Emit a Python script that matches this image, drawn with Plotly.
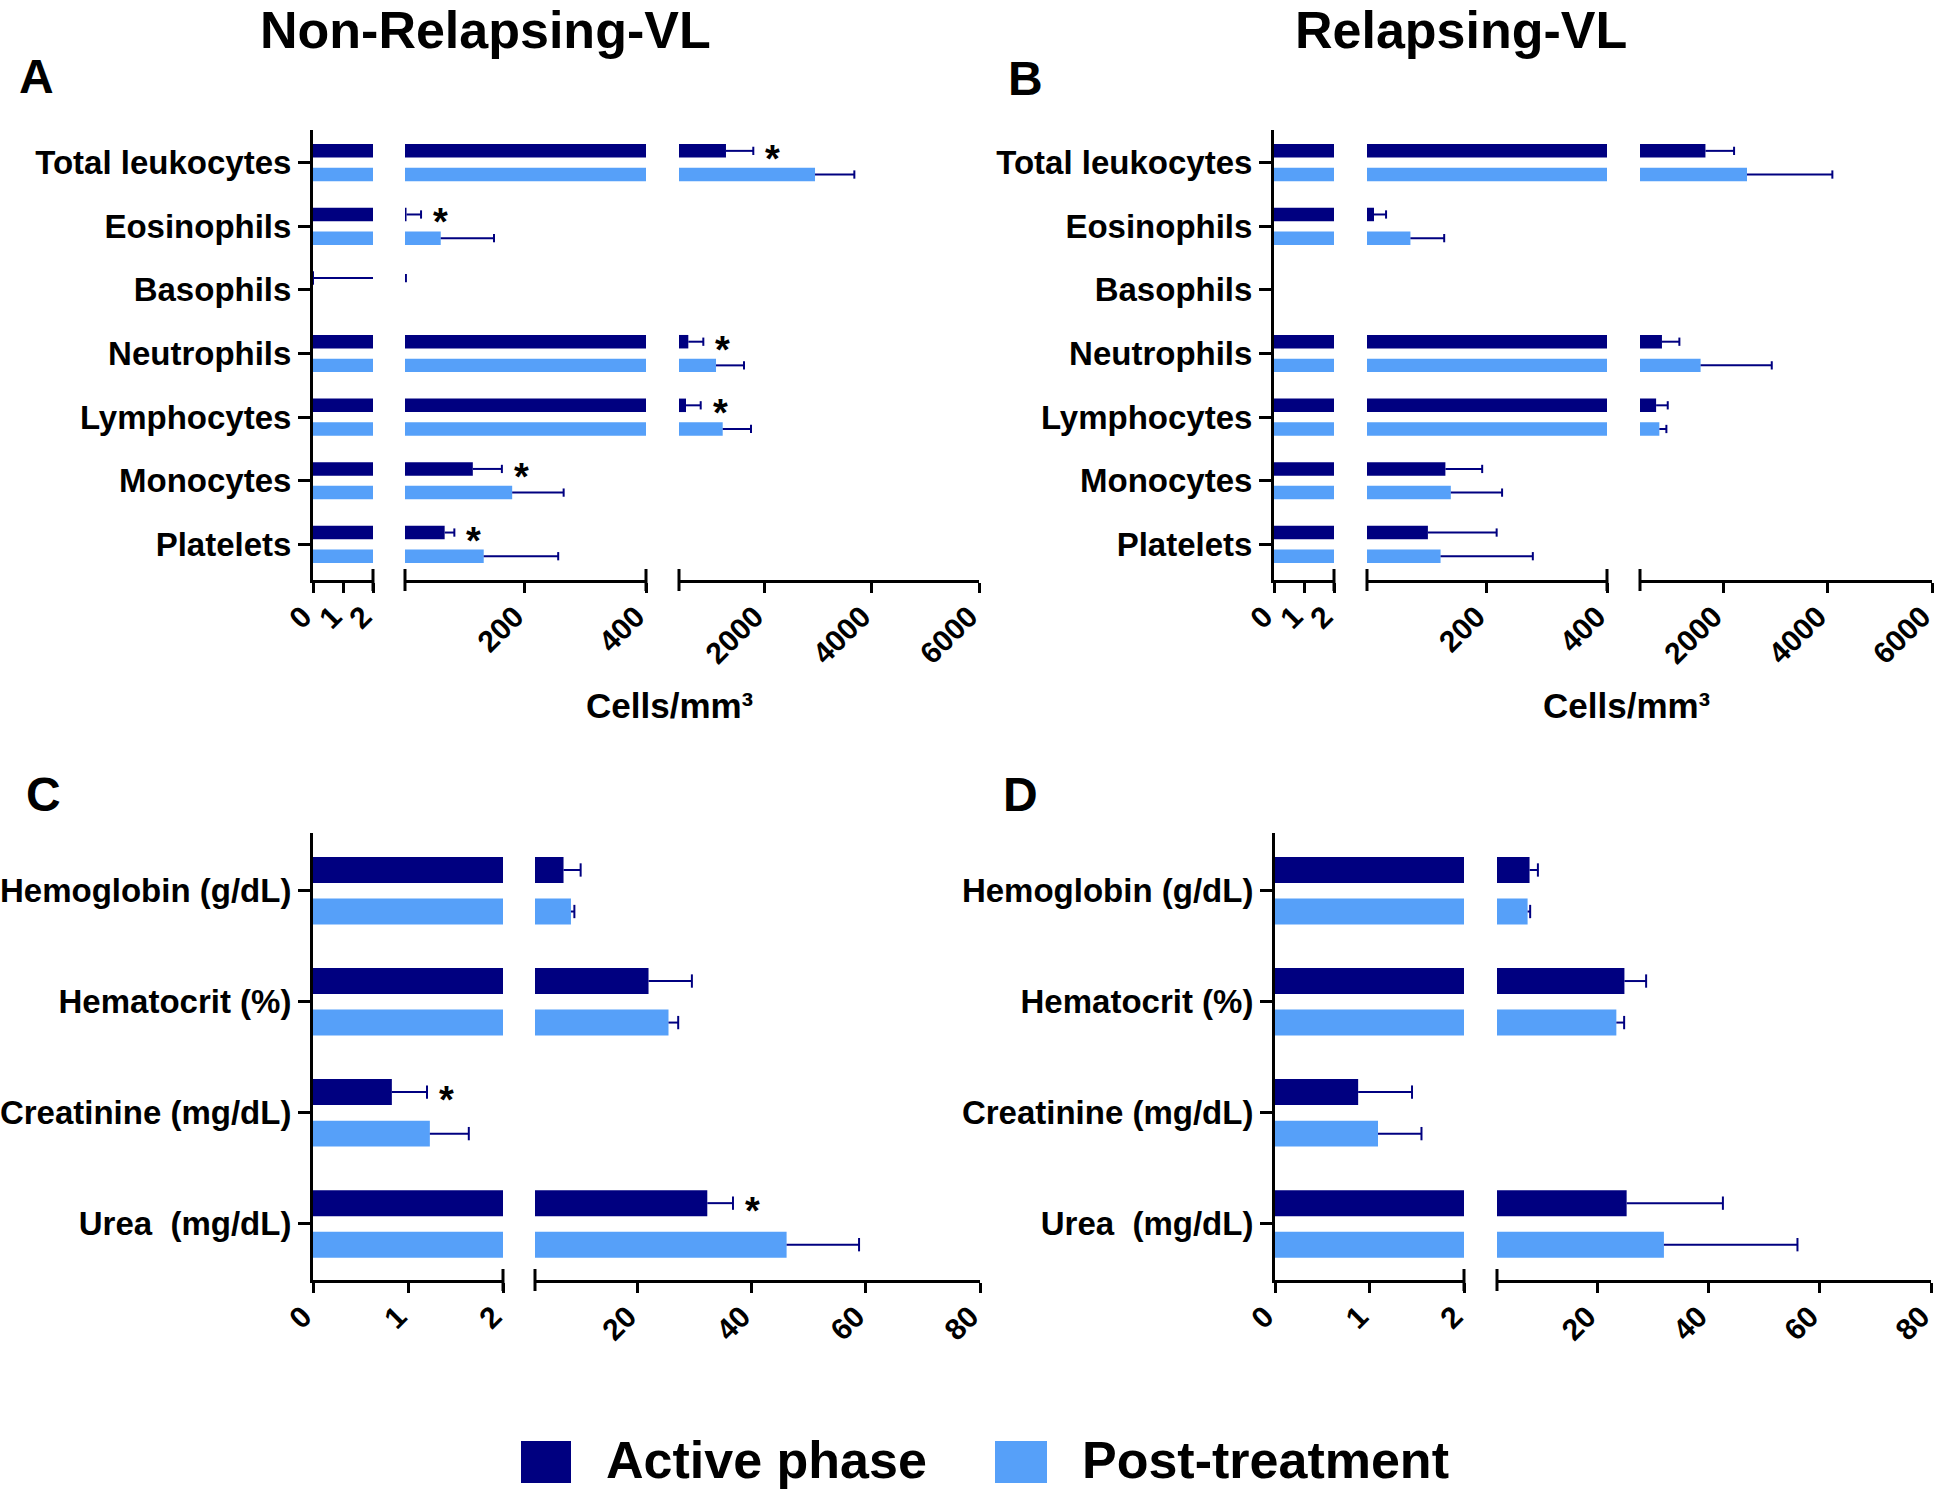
import plotly.graph_objects as go

W, H = 1946, 1493
NAVY = "#000080"
LIGHT = "#56A0F9"
FONT = "Liberation Sans, Arial, Helvetica, sans-serif"

# ---------------- data ----------------
series_names = ["Active phase", "Post-treatment"]

cell_types = ["Total leukocytes", "Eosinophils", "Basophils", "Neutrophils",
              "Lymphocytes", "Monocytes", "Platelets"]
nr_cells_active = [1277, 4.5, 0.02, 574, 531, 114, 67.5]
nr_cells_active_sd = [510, 24, 3.5, 280, 274, 48, 16]
nr_cells_post = [2939, 61, 0, 1091, 1216, 179, 132]
nr_cells_post_sd = [734, 88, 0, 522, 528, 85, 123]
nr_cells_signif = [True, True, False, True, True, True, True]

r_cells_active = [1655, 13.6, 0, 821, 709, 132, 103]
r_cells_active_sd = [549, 20, 0, 334, 223, 61, 114]
r_cells_post = [2452, 74, 0, 1562, 771, 141, 124]
r_cells_post_sd = [1637, 56, 0, 1365, 135, 85, 153]
r_cells_signif = [False] * 7

bio_params = ["Hemoglobin (g/dL)", "Hematocrit (%)", "Creatinine (mg/dL)", "Urea\u00a0 (mg/dL)"]
nr_bio_active = [7.0, 21.9, 0.83, 32.2]
nr_bio_active_sd = [3.0, 7.6, 0.37, 4.5]
nr_bio_post = [8.3, 25.4, 1.23, 46.1]
nr_bio_post_sd = [0.6, 1.7, 0.41, 12.7]
nr_bio_signif = [False, False, True, True]

r_bio_active = [7.85, 24.9, 0.88, 25.3]
r_bio_active_sd = [1.5, 3.9, 0.57, 17.3]
r_bio_post = [7.5, 23.45, 1.09, 32.0]
r_bio_post_sd = [0.46, 1.4, 0.46, 24.0]
r_bio_signif = [False] * 4

cell_segments = [[0, 2], [2, 400], [400, 6000]]
cell_ticks = [[0, 1, 2], [200, 400], [2000, 4000, 6000]]
bio_segments = [[0, 2], [2, 80]]
bio_ticks = [[0, 1, 2], [20, 40, 60, 80]]

# ---------------- layout geometry (pixels) ----------------
panels = [
    dict(cats=cell_types, a=nr_cells_active, asd=nr_cells_active_sd, p=nr_cells_post,
         psd=nr_cells_post_sd, sig=nr_cells_signif, segs=cell_segments, ticks=cell_ticks,
         xpx=[(313, 373), (405, 646), (679, 979)], ypx=(130, 580),
         yr=[6.56, -0.514], d=0.186, w=0.212, cap=0.065),
    dict(cats=cell_types, a=r_cells_active, asd=r_cells_active_sd, p=r_cells_post,
         psd=r_cells_post_sd, sig=r_cells_signif, segs=cell_segments, ticks=cell_ticks,
         xpx=[(1274, 1334), (1367, 1607), (1640, 1932)], ypx=(130, 580),
         yr=[6.56, -0.514], d=0.186, w=0.212, cap=0.065),
    dict(cats=bio_params, a=nr_bio_active, asd=nr_bio_active_sd, p=nr_bio_post,
         psd=nr_bio_post_sd, sig=nr_bio_signif, segs=bio_segments, ticks=bio_ticks,
         xpx=[(313, 503), (535, 980)], ypx=(833, 1280),
         yr=[3.505, -0.52], d=0.187, w=0.234, cap=0.06),
    dict(cats=bio_params, a=r_bio_active, asd=r_bio_active_sd, p=r_bio_post,
         psd=r_bio_post_sd, sig=r_bio_signif, segs=bio_segments, ticks=bio_ticks,
         xpx=[(1275, 1464), (1497, 1931)], ypx=(833, 1280),
         yr=[3.505, -0.52], d=0.187, w=0.234, cap=0.06),
]


def fx(p):
    return p / W


def fy(p):
    return 1 - p / H


fig = go.Figure()
layout = dict(width=W, height=H, margin=dict(l=0, r=0, t=0, b=0, autoexpand=False),
              paper_bgcolor="white", plot_bgcolor="white", showlegend=False,
              barmode="overlay", font=dict(family=FONT, color="black"))
annotations = []
shapes = []

xcount = 0
for pi, P in enumerate(panels):
    ysuffix = "" if pi == 0 else str(pi + 1)
    yname = "y" + ysuffix
    n = len(P["cats"])
    idx = list(range(n))
    xnames = []
    for si, (seg, tks, (x0, x1)) in enumerate(zip(P["segs"], P["ticks"], P["xpx"])):
        xcount += 1
        xs = "" if xcount == 1 else str(xcount)
        xname = "x" + xs
        xnames.append(xname)
        layout["xaxis" + xs] = dict(
            domain=[fx(x0), fx(x1)], range=seg, anchor=yname, automargin=False,
            tickmode="array", tickvals=tks, ticktext=[str(t) for t in tks],
            tickangle=-45, ticklabeloverflow="allow", ticklabelstandoff=-6,
            ticklabelshift=-10,
            showline=True, linecolor="black", linewidth=3,
            ticks="outside", ticklen=10, tickwidth=3, tickcolor="black",
            tickfont=dict(size=30, family=FONT, weight="bold", color="black"),
            showgrid=False, zeroline=False, fixedrange=True)
        # break marks at segment edges
        ybot = fy(P["ypx"][1])
        dy = 11 / H
        if si > 0:
            shapes.append(dict(type="line", xref=xname + " domain", yref="paper",
                               x0=0, x1=0, y0=ybot - dy, y1=ybot + dy,
                               line=dict(color="black", width=3)))
        if si < len(P["segs"]) - 1:
            shapes.append(dict(type="line", xref=xname + " domain", yref="paper",
                               x0=1, x1=1, y0=ybot - dy, y1=ybot + dy,
                               line=dict(color="black", width=3)))
        # bars
        for vals, sds, col, off in ((P["a"], P["asd"], NAVY, -P["d"]),
                                    (P["p"], P["psd"], LIGHT, P["d"])):
            fig.add_trace(go.Bar(x=vals, y=idx, orientation="h",
                                 offset=off - P["w"] / 2, width=P["w"],
                                 marker=dict(color=col, line=dict(width=0)),
                                 xaxis=xname, yaxis=yname, hoverinfo="skip"))
            ex, ey = [], []
            for i, (v, e) in enumerate(zip(vals, sds)):
                if e <= 0:
                    continue
                yc = i + off
                ex += [v, v + e, None, v + e, v + e, None]
                ey += [yc, yc, None, yc - P["cap"], yc + P["cap"], None]
            fig.add_trace(go.Scatter(x=ex, y=ey, mode="lines",
                                     line=dict(color=NAVY, width=2),
                                     xaxis=xname, yaxis=yname, hoverinfo="skip"))
    layout["yaxis" + ysuffix] = dict(
        domain=[fy(P["ypx"][1]), fy(P["ypx"][0])], range=P["yr"], anchor=xnames[0],
        automargin=False,
        tickmode="array", tickvals=idx, ticktext=P["cats"],
        showline=True, linecolor="black", linewidth=3,
        ticks="outside", ticklen=12, tickwidth=3, tickcolor="black",
        tickfont=dict(size=33, family=FONT, weight="bold", color="black"),
        showgrid=False, zeroline=False, fixedrange=True)
    # significance asterisks next to the active-phase error bar
    for i, s in enumerate(P["sig"]):
        if not s:
            continue
        end = P["a"][i] + P["asd"][i]
        for xname, seg in zip(xnames, P["segs"]):
            if seg[0] <= end <= seg[1]:
                annotations.append(dict(x=end, y=i - P["d"], xref=xname, yref=yname,
                                        text="*", showarrow=False, xanchor="left",
                                        xshift=10, yshift=-8,
                                        font=dict(size=38, family=FONT, weight="bold",
                                                  color="black")))
                break

# titles and panel letters
def txt(x, y, t, size, anchor="center"):
    annotations.append(dict(x=fx(x), y=fy(y), xref="paper", yref="paper", text=t,
                            showarrow=False, xanchor=anchor, yanchor="middle",
                            font=dict(size=size, family=FONT, weight="bold", color="black")))

txt(485, 30, "Non-Relapsing-VL", 52)
txt(1461, 30, "Relapsing-VL", 52)
txt(36, 76, "A", 48)
txt(1025, 79, "B", 48)
txt(43, 794, "C", 48)
txt(1020, 794, "D", 48)
txt(669, 705, "Cells/mm³", 35)
txt(1626, 705, "Cells/mm³", 35)

# legend
for (sx0, sx1, tx), name, col in zip([(521, 571, 604), (995, 1047, 1080)], series_names, [NAVY, LIGHT]):
    shapes.append(dict(type="rect", xref="paper", yref="paper", x0=fx(sx0), x1=fx(sx1),
                       y0=fy(1483), y1=fy(1441), fillcolor=col, line=dict(width=0)))
    txt(tx, 1460, name, 52, anchor="left")

layout["annotations"] = annotations
layout["shapes"] = shapes
fig.update_layout(**layout)
fig.write_html("out.html", config={"displayModeBar": False},
               post_script="document.body.style.margin='0';"
                           "document.body.style.overflow='hidden';")
